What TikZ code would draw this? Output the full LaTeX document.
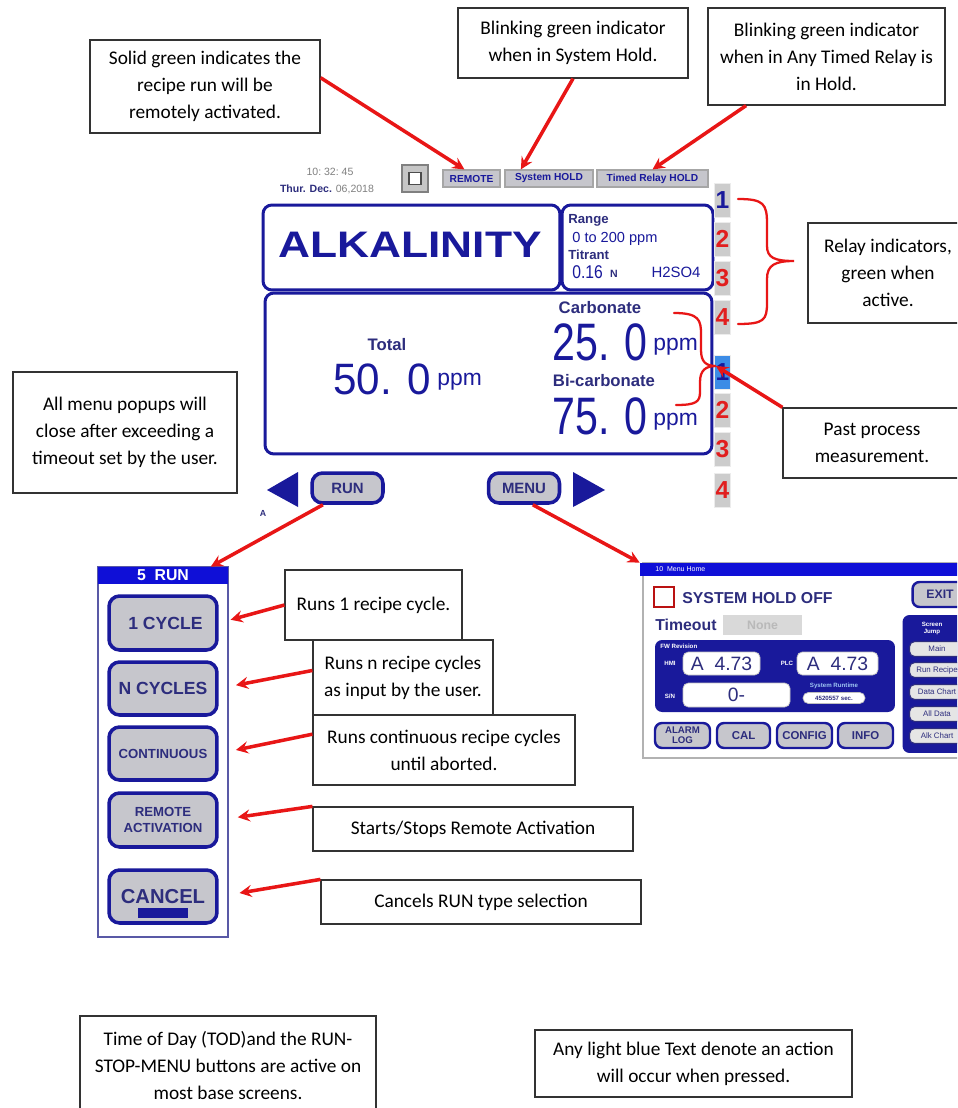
\documentclass[tikz,border=0pt]{standalone}
\usepackage{fontspec}
\setmainfont{Carlito}
\newfontfamily\scrfont{Liberation Sans}
\usepgflibrary{arrows}
\definecolor{scrblue}{RGB}{25,25,155}
\definecolor{scrnavy}{RGB}{45,45,125}
\definecolor{hdrblue}{RGB}{15,15,215}
\definecolor{btngray}{RGB}{198,198,204}
\definecolor{arrred}{RGB}{232,22,22}
\definecolor{relred}{RGB}{225,30,30}
\definecolor{liteblue}{RGB}{60,140,230}

\begin{document}
\begin{tikzpicture}[>=stealth, x=.02cm, y=-.02cm,
note/.style={draw=black!80, fill=white, line width=.7pt, align=center, inner sep=2pt, font=\fontsize{11}{15.3}\selectfont},
redarrow/.style={->, draw=arrred, line width=2pt},
redline/.style={draw=arrred, line width=1.3pt, line cap=round},
panel/.style={draw=scrblue, line width=1.7pt, rounded corners=5pt, inner sep=0pt},
btn/.style={draw=scrblue, fill=btngray, line width=2pt, rounded corners=6pt, text=scrnavy, align=center, inner sep=0pt},
mbtn/.style={btn, line width=1.4pt, rounded corners=4pt, minimum height=.5cm, font=\scrfont\bfseries\fontsize{6.5}{6}\selectfont},
topbtn/.style={draw=gray!70, fill=btngray, line width=.6pt, text=scrblue, inner sep=0pt, minimum height=.34cm, font=\scrfont\bfseries\fontsize{5.8}{6}\selectfont},
relay/.style={fill=gray!40, draw=gray!15, line width=.5pt, inner sep=0pt, minimum width=.32cm, minimum height=.68cm, font=\scrfont\bfseries\fontsize{14}{14}\selectfont},
lbl/.style={text=scrnavy, inner sep=0pt, font=\scrfont\bfseries\fontsize{9.5}{10}\selectfont},
bignum/.style={text=scrblue, inner sep=0pt, font=\scrfont\fontsize{25}{25}\selectfont},
unit/.style={text=scrblue, inner sep=0pt, font=\scrfont\fontsize{13}{13}\selectfont},
tiny/.style={text=white, inner sep=0pt, align=center, font=\scrfont\bfseries\fontsize{3.5}{4}\selectfont},
field/.style={fill=white, draw=gray!50, rounded corners=3pt, inner sep=0pt, text=scrnavy, font=\scrfont\fontsize{11}{11}\selectfont},
jump/.style={draw=scrnavy, fill=gray!20, line width=.6pt, rounded corners=3pt, inner sep=0pt, minimum width=1.1cm, minimum height=.3cm, text=scrnavy, font=\scrfont\fontsize{4.5}{5}\selectfont}]
\useasboundingbox (0,0) rectangle (957,1108);
\clip (0,0) rectangle (957,1108);
\fill[white] (0,0) rectangle (957,1108);
%%%%%%%%%% notes on top %%%%%%%%%%%
\node[note, minimum width=4.6cm, minimum height=1.86cm] (remnote) at (205,86.5) {Solid green indicates the\\recipe run will be\\remotely activated.};
\node[note, minimum width=4.6cm, minimum height=1.4cm] (holdnote) at (573,43) {Blinking green indicator\\when in System Hold.};
\node[note, minimum width=4.74cm, minimum height=1.94cm] (timednote) at (826.5,56.5) {Blinking green indicator\\when in Any Timed Relay is\\in Hold.};
%%%%%%%%%% main screen %%%%%%%%%%%
\node[text=gray, inner sep=0pt, font=\scrfont\fontsize{6}{7}\selectfont] (clock) at (330,172) {10:\ 32:\ 45};
\node[inner sep=0pt, font=\scrfont\fontsize{6}{7}\selectfont] (date) at (327,189) {\textcolor{scrnavy}{\bfseries Thur. Dec.} \textcolor{gray}{06,2018}};
\node[draw=gray, fill=gray!45, line width=.6pt, minimum width=.52cm, minimum height=.54cm] (holdsq) at (415,178.5) {};
\node[draw=black!70, fill=white, line width=.6pt, minimum size=.24cm, inner sep=0pt] (holdsqin) at (holdsq) {};
\node[topbtn, minimum width=1.14cm] (remote) at (471.5,178.5) {REMOTE};
\node[topbtn, minimum width=1.76cm] (syshold) at (549,178.5) {System HOLD};
\node[topbtn, minimum width=2.22cm] (timed) at (652.5,178.5) {Timed Relay HOLD};
\node[panel, minimum width=5.94cm, minimum height=1.7cm] (namepan) at (411.5,247.5) {};
\node[panel, minimum width=3.02cm, minimum height=1.7cm] (rangepan) at (637.5,247.5) {};
\node[panel, minimum width=8.94cm, minimum height=3.22cm] (mainpan) at (488.5,373.5) {};
\node[text=scrblue, inner sep=0pt, xscale=1.2, font=\scrfont\bfseries\fontsize{21}{21}\selectfont] (alk) at (410,245) {ALKALINITY};
\node[lbl, anchor=west, font=\scrfont\bfseries\fontsize{7.5}{8}\selectfont] (range) at (568,220) {Range};
\node[text=scrblue, anchor=west, inner sep=0pt, font=\scrfont\fontsize{8.3}{9}\selectfont] (rangeval) at (572,239) {0 to 200 ppm};
\node[lbl, anchor=west, font=\scrfont\bfseries\fontsize{7.5}{8}\selectfont] (titrant) at (568,255) {Titrant};
\node[text=scrblue, anchor=west, inner sep=0pt, xscale=.85, font=\scrfont\fontsize{10.5}{11}\selectfont] (conc) at (572,272) {0.16};
\node[lbl, font=\scrfont\bfseries\fontsize{6}{6}\selectfont] (norm) at (614,274) {N};
\node[text=scrblue, inner sep=0pt, font=\scrfont\fontsize{8.5}{9}\selectfont] (acid) at (676,272) {H2SO4};
\node[lbl] (total) at (387,345) {Total};
\node[bignum, xscale=.96] (totval) at (382,379) {50. 0};
\node[unit, anchor=base west] (totunit) at (437,385) {ppm};
\node[lbl] (carb) at (600,308) {Carbonate};
\node[bignum, xscale=.78, font=\scrfont\fontsize{30}{30}\selectfont] (carbval) at (600,342) {25. 0};
\node[unit, anchor=base west] (carbunit) at (653,350) {ppm};
\node[lbl] (bicarb) at (604,381) {Bi-carbonate};
\node[bignum, xscale=.78, font=\scrfont\fontsize{30}{30}\selectfont] (bicarbval) at (600,416) {75. 0};
\node[unit, anchor=base west] (bicarbunit) at (653,425) {ppm};
%%%%%%%%%% relays %%%%%%%%%%%
\node[relay, text=scrblue] (rt1) at (722.5,200) {1};
\node[relay, text=relred] (rt2) at (722.5,239) {2};
\node[relay, text=relred] (rt3) at (722.5,278) {3};
\node[relay, text=relred] (rt4) at (722.5,317) {4};
\node[relay, fill=liteblue, text=scrblue] (rb1) at (722.5,372) {1};
\node[relay, text=relred] (rb2) at (722.5,410) {2};
\node[relay, text=relred] (rb3) at (722.5,449) {3};
\node[relay, text=relred] (rb4) at (722.5,490) {4};
\draw[redline] (738,199) .. controls (764,199) and (767,204) .. (767,224) -- (767,246) .. controls (767,258) and (775,261) .. (794,261) .. controls (775,261) and (767,265) .. (767,279) -- (767,303) .. controls (767,320) and (764,324) .. (738,324);
\node[note, minimum width=3.2cm, minimum height=2cm] (relnote) at (888,273) {Relay indicators,\\green when\\active.};
\draw[redline] (674,313) .. controls (699,313) and (701,320) .. (701,334) -- (701,350) .. controls (701,362) and (706,366) .. (716,366) .. controls (706,366) and (700,370) .. (700,382) -- (700,392) .. controls (700,402) and (696,405) .. (676,405);
\coordinate (ptip) at (716,366);
\node[note, minimum width=3.56cm, minimum height=1.4cm] (past) at (872,443) {Past process\\measurement.};
%%%%%%%%%% run / menu %%%%%%%%%%%
\node[note, minimum width=4.48cm, minimum height=2.42cm] (popnote) at (125,432.5) {All menu popups will\\close after exceeding a\\timeout set by the user.};
\fill[scrblue] (267,490) -- (298,472) -- (298,507) -- cycle;
\node[text=scrnavy, inner sep=0pt, font=\scrfont\bfseries\fontsize{5}{5}\selectfont] (alabel) at (263,513) {A};
\node[btn, minimum width=1.42cm, minimum height=.6cm, font=\scrfont\bfseries\fontsize{8.5}{9}\selectfont] (run) at (347.5,488) {RUN};
\node[btn, minimum width=1.42cm, minimum height=.6cm, font=\scrfont\bfseries\fontsize{8.5}{9}\selectfont] (menu) at (524,488) {MENU};
\fill[scrblue] (605,490) -- (573,472) -- (573,507) -- cycle;
%%%%%%%%%% run popup %%%%%%%%%%%
\draw[gray!70!blue, line width=.6pt] (98,567) rectangle (228,937);
\node[fill=hdrblue, minimum width=2.6cm, minimum height=.34cm, inner sep=0pt, text=white, font=\scrfont\bfseries\fontsize{9}{9}\selectfont] (runhdr) at (163,575.5) {5\ \ RUN\hspace{14pt}};
\node[btn, minimum width=2.16cm, minimum height=1.08cm, font=\scrfont\bfseries\fontsize{10}{10}\selectfont] (cyc1) at (163,623) {\ 1 CYCLE};
\node[btn, minimum width=2.16cm, minimum height=1.06cm, font=\scrfont\bfseries\fontsize{10}{10}\selectfont] (ncyc) at (163,688.5) {N CYCLES};
\node[btn, minimum width=2.16cm, minimum height=1.06cm, font=\scrfont\bfseries\fontsize{7.5}{8}\selectfont] (contbtn) at (163,753.5) {CONTINUOUS};
\node[btn, minimum width=2.16cm, minimum height=1.08cm, font=\scrfont\bfseries\fontsize{7.5}{9}\selectfont] (remact) at (163,820) {REMOTE\\ACTIVATION};
\node[btn, minimum width=2.16cm, minimum height=1.06cm, font=\scrfont\bfseries\fontsize{11.5}{12}\selectfont] (cancel) at (163,896.5) {CANCEL};
\node[fill=scrblue, minimum width=1cm, minimum height=.2cm, inner sep=0pt] (cancelbar) at (163,913) {};
\node[note, minimum width=3.54cm, minimum height=1.4cm] (runs1) at (373.5,605) {Runs 1 recipe cycle.};
\node[note, minimum width=3.6cm, minimum height=1.5cm] (runsn) at (403,677.5) {Runs n recipe cycles\\as input by the user.};
\node[note, minimum width=5.24cm, minimum height=1.4cm] (cont) at (444,750) {Runs continuous recipe cycles\\until aborted.};
\node[note, minimum width=6.4cm, minimum height=.88cm] (starts) at (473,829) {Starts/Stops Remote Activation};
\node[note, minimum width=6.4cm, minimum height=.88cm] (cancels) at (481,902) {Cancels RUN type selection};
%%%%%%%%%% menu home popup %%%%%%%%%%%
\draw[gray!60, line width=.6pt] (643,563) rectangle (962,758);
\node[fill=hdrblue, minimum width=6.44cm, minimum height=.26cm, inner sep=0pt] (menuhdr) at (801,569.5) {};
\node[tiny, anchor=west, font=\scrfont\fontsize{4}{4}\selectfont] (menutitle) at (655,569.5) {10\ \ Menu Home};
\node[draw=arrred!80!black, line width=1.2pt, minimum size=.4cm, inner sep=0pt] (holdbox) at (664,597) {};
\node[lbl, anchor=west, font=\scrfont\bfseries\fontsize{9}{9}\selectfont] (holdoff) at (682,598) {SYSTEM HOLD OFF};
\node[mbtn, minimum width=1.1cm, font=\scrfont\bfseries\fontsize{7}{7}\selectfont] (exit) at (940,594.5) {EXIT};
\node[lbl, anchor=west, font=\scrfont\bfseries\fontsize{9}{9}\selectfont] (timeout) at (655,625) {Timeout};
\node[fill=gray!30, minimum width=1.58cm, minimum height=.4cm, inner sep=0pt, text=gray!55, font=\scrfont\bfseries\fontsize{7}{7}\selectfont] (none) at (762.5,625) {None};
\node[fill=scrblue, rounded corners=4pt, minimum width=4.8cm, minimum height=1.44cm, inner sep=0pt] (fwpan) at (775,676) {};
\node[tiny, anchor=west] (fwlbl) at (660,646) {FW Revision};
\node[tiny] (hmilbl) at (670,663) {HMI};
\node[field, minimum width=1.54cm, minimum height=.46cm] (hmi) at (721.5,663.5) {A\ \ 4.73};
\node[tiny] (plclbl) at (787,663) {PLC};
\node[field, minimum width=1.62cm, minimum height=.46cm] (plc) at (837.5,663.5) {A\ \ 4.73};
\node[tiny] (snlbl) at (670,696) {S/N};
\node[field, minimum width=2.14cm, minimum height=.48cm] (sn) at (736.5,695) {0-};
\node[tiny, text=liteblue!50!white] (rtlbl) at (834,686) {System Runtime};
\node[field, minimum width=1.24cm, minimum height=.22cm, font=\scrfont\bfseries\fontsize{3.5}{4}\selectfont] (rtval) at (834,698) {4520557 sec.};
\node[mbtn, minimum width=1.1cm, font=\scrfont\bfseries\fontsize{5.5}{5.5}\selectfont] (alarm) at (682.5,735.5) {ALARM\\LOG};
\node[mbtn, minimum width=1.06cm] (cal) at (743.5,735.5) {CAL};
\node[mbtn, minimum width=1.1cm] (config) at (804.5,735.5) {CONFIG};
\node[mbtn, minimum width=1.1cm] (info) at (865.5,735.5) {INFO};
\node[fill=scrblue, rounded corners=4pt, minimum width=1.3cm, minimum height=2.76cm, inner sep=0pt] (jumppan) at (935,684) {};
\node[tiny] (jumplbl) at (932,628) {Screen\\Jump};
\node[jump] (jmain) at (937,649) {Main};
\node[jump] (jrecipe) at (937,670) {Run Recipe};
\node[jump] (jdata) at (937,692) {Data Chart};
\node[jump] (jall) at (937,714) {All Data};
\node[jump] (jalk) at (937,736) {Alk Chart};
%%%%%%%%%% bottom notes %%%%%%%%%%%
\node[note, minimum width=5.92cm, minimum height=1.98cm] (todnote) at (228,1065.5) {Time of Day (TOD)and the RUN-\\STOP-MENU buttons are active on\\most base screens.};
\node[note, minimum width=6.34cm, minimum height=1.34cm] (bluenote) at (693.5,1063.5) {Any light blue Text denote an action\\will occur when pressed.};
%%%%%%%%%% arrows %%%%%%%%%%%
\draw[redarrow] ([yshift=5pt]remnote.east) -- ([xshift=-4pt]remote.north);
\draw[redarrow] (holdnote.south) -- ([xshift=-16pt]syshold.north);
\draw[redarrow] ([xshift=22pt]timednote.south west) -- (timed.north);
\draw[redarrow] (past.north west) -- (ptip);
\draw[redarrow] ([xshift=-14pt]run.south) -- ([xshift=-10pt]runhdr.north east);
\draw[redarrow] ([xshift=5pt]menu.south) -- (menuhdr.north west);
\draw[redarrow, shorten >=7pt] (runs1.west) -- (cyc1.east);
\draw[redarrow, shorten >=10pt] ([yshift=4pt]runsn.west) -- (ncyc.east);
\draw[redarrow, shorten >=10pt] ([yshift=9pt]cont.west) -- (contbtn.east);
\draw[redarrow, shorten >=11pt] (starts.north west) -- (remact.east);
\draw[redarrow, shorten >=12pt] (cancels.north west) -- (cancel.east);
\end{tikzpicture}
\end{document}
